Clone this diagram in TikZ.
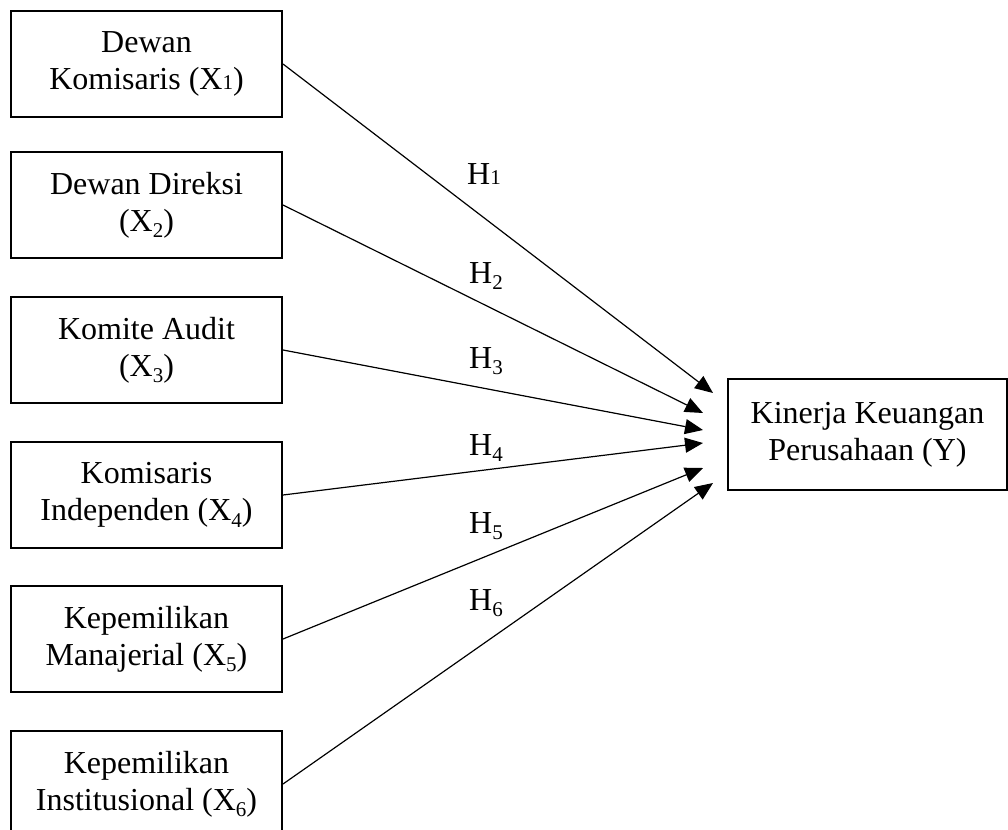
\documentclass[tikz,border=0pt]{standalone}
\usepackage{fontspec}
\setmainfont{Liberation Serif}
\usepackage{tikz}
\usetikzlibrary{arrows.meta}
\newcommand{\BoxW}{271}
\newcommand{\BoxH}{106}
\newcommand{\BoxX}{146.5}
\newcommand{\SubBase}[1]{{\fontsize{21}{21}\selectfont #1}}
\newcommand{\SubLow}[1]{\raisebox{-0.45ex}{\fontsize{21}{21}\selectfont #1}}
\colorlet{PathColor}{black}
\tikzset{
  varbox/.style={draw, line width=2pt, align=center, inner sep=0pt,
    minimum width=\BoxW pt, minimum height=\BoxH pt,
    font=\fontsize{32}{37}\selectfont},
  hyplabel/.style={anchor=base west, inner sep=0pt, font=\fontsize{32}{37}\selectfont},
  hyparrow/.style={PathColor, line width=1.2pt, -{Triangle[length=18pt, width=15pt]}}
}
\begin{document}
\begin{tikzpicture}[x=1pt, y=-1pt]
		\useasboundingbox (0,0) rectangle (1008,829);
		\clip (0,0) rectangle (1008,829);
		
		\foreach \i/\yTop/\txt in {
			1/11/{Dewan\\Komisaris (X\SubBase{1})},
			2/152/{Dewan Direksi\\(X\SubLow{2})},
			3/297/{Komite Audit\\(X\SubLow{3})},
			4/442/{Komisaris\\Independen (X\SubLow{4})},
			5/586/{Kepemilikan\\Manajerial (X\SubLow{5})},
			6/731/{Kepemilikan\\Institusional (X\SubLow{6})}}{
			\node[varbox] (x\i) at (\BoxX, \yTop + \BoxH/2) {\txt};
		}
		
		\node[varbox, minimum width=279pt, minimum height=111pt] (y) at (867.5, 434.5)
		{Kinerja Keuangan\\Perusahaan (Y)};
		
		\foreach \i/\xTip/\yTip in {1/713/393, 2/703/413, 3/703/430, 4/703/443, 5/703/468, 6/713/483}{
			\coordinate (t\i) at (\xTip, \yTip);
			\draw[hyparrow] (x\i.east) -- (t\i);
		}
		
		\node[hyplabel] (h1) at (467, 185) {H\SubBase{1}};
		\foreach \i/\yBase in {2/283, 3/368, 4/455, 5/533, 6/610}{
			\node[hyplabel] (h\i) at (469, \yBase) {H\SubLow{\i}};
		}
	\end{tikzpicture}
\end{document}
